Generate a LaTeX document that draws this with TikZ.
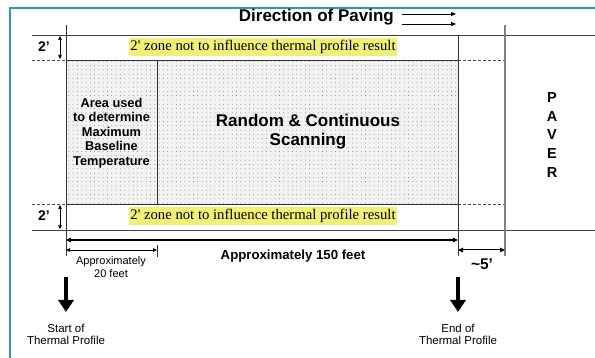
\documentclass[tikz,border=0pt]{standalone}
\usepackage{fontspec}
\setmainfont{Liberation Sans}
\newfontfamily\seriffont{Liberation Serif}
\usetikzlibrary{arrows.meta,patterns}
\definecolor{borderblue}{RGB}{45,150,190}
\definecolor{hilite}{RGB}{240,240,120}
\pgfdeclarepatternformonly{sparsedots}{\pgfqpoint{-1pt}{-1pt}}{\pgfqpoint{1pt}{1pt}}{\pgfqpoint{4.3pt}{4.3pt}}{%
  \pgfpathcircle{\pgfqpoint{0pt}{0pt}}{0.45pt}\pgfusepath{fill}}
\tikzset{
  frameline/.style={draw=borderblue,line width=1.4pt},
  mainline/.style={draw=black!75,line width=0.9pt},
  grayline/.style={draw=black!50,line width=1.6pt},
  thinline/.style={draw=black!80,line width=0.6pt},
  dashline/.style={draw=black!70,line width=0.6pt,dash pattern=on 3pt off 2pt},
  dimline/.style={draw=black,line width=1.2pt,{Triangle[length=5pt,width=4.5pt]}-{Triangle[length=5pt,width=4.5pt]}},
  smalldim/.style={draw=black,line width=0.6pt,{Triangle[length=4pt,width=3.5pt]}-{Triangle[length=4pt,width=3.5pt]}},
  dirarrow/.style={draw=black,line width=0.7pt,-{Triangle[length=5pt,width=4pt]}},
  bigarrow/.style={draw=black,line width=4.5pt,-{Triangle[length=12pt,width=15pt]}},
  lbl/.style={inner sep=0pt,align=center,font=\bfseries\fontsize{#1}{#1}\selectfont},
  lbl/.default=11,
  zone/.style={fill=hilite,inner xsep=1.5pt,inner ysep=2pt,font=\seriffont\fontsize{14.7}{16}\selectfont}
}
\begin{document}
\begin{tikzpicture}[x=1pt,y=-1pt]
\useasboundingbox (0,0) rectangle (595,358);
% frame
\draw[frameline] (10,358) -- (10,8) -- (595,8);
% key coordinates
\coordinate (tl) at (32,35);
\coordinate (tr) at (595,35);
\coordinate (bl) at (32,230);
\coordinate (br) at (595,230);
\coordinate (a1) at (66,60);
\coordinate (a2) at (458,204);
% dotted area
\fill[black!5] (a1) rectangle (a2);
\fill[pattern=sparsedots,pattern color=black!55] (a1) rectangle (a2);
% horizontal lines
\draw[mainline] (tl) -- (tr);
\draw[mainline] (bl) -- (br);
\draw[thinline] (66,60) -- (458,60);
\draw[thinline] (66,204) -- (458,204);
\draw[dashline] (32,60) -- (66,60);
\draw[dashline] (458,60) -- (505,60);
\draw[dashline] (32,204) -- (66,204);
\draw[dashline] (458,204) -- (505,204);
% vertical lines
\coordinate (v1t) at (66,25);  \coordinate (v1b) at (66,256);
\coordinate (v2t) at (458,35); \coordinate (v2b) at (458,256);
\coordinate (v3t) at (505,25); \coordinate (v3b) at (505,256);
\coordinate (dvt) at (157,60); \coordinate (dvb) at (157,204);
\draw[thinline] (v1t) -- (v1b);
\draw[thinline] (v2t) -- (v2b);
\draw[grayline] (v3t) -- (v3b);
\draw[thinline] (dvt) -- (dvb);
% title
\node[lbl=17,anchor=east] (title) at (394,17) {Direction of Paving};
\coordinate (d1s) at (402,14); \coordinate (d1e) at (456,14);
\coordinate (d2s) at (402,24); \coordinate (d2e) at (456,24);
\draw[dirarrow] (d1s) -- (d1e);
\draw[dirarrow] (d2s) -- (d2e);
% 2' zones
\node[zone] (z1) at (263,47) {2' zone not to influence thermal profile result};
\node[zone] (z2) at (263,216) {2' zone not to influence thermal profile result};
\node[lbl=14] (t1) at (44,47) {2’};
\node[lbl=14] (t2) at (44,216) {2’};
\coordinate (h1a) at (60,36); \coordinate (h1b) at (60,59);
\coordinate (h2a) at (60,205); \coordinate (h2b) at (60,229);
\draw[smalldim] (h1a) -- (h1b);
\draw[smalldim] (h2a) -- (h2b);
% inner texts
\node[lbl=13,font=\bfseries\fontsize{12.8}{14.4}\selectfont] (area) at (111.5,133) {Area used\\to determine\\Maximum\\Baseline\\Temperature};
\node[lbl=17,font=\bfseries\fontsize{17}{19}\selectfont] (scan) at (308,132) {Random \& Continuous\\Scanning};
\node[lbl=14,font=\bfseries\fontsize{14.5}{18.6}\selectfont] (paver) at (552,135) {P\\A\\V\\E\\R};
% dimensions
\coordinate (m1) at (66,240); \coordinate (m2) at (458,240);
\draw[dimline] (m1) -- (m2);
\node[lbl=13.2] (d150) at (293,256) {Approximately 150 feet};
\coordinate (s1) at (66,250); \coordinate (s2) at (157,250);
\draw[smalldim,line width=0.8pt] (s1) -- (s2);
\coordinate (k1) at (157,245); \coordinate (k2) at (157,257);
\draw[thinline] (k1) -- (k2);
\node[lbl=11,font=\fontsize{11}{12.5}\selectfont] (d20) at (111,267) {Approximately\\20 feet};
\coordinate (f1) at (458,250); \coordinate (f2) at (505,250);
\draw[dimline,line width=1pt] (f1) -- (f2);
\node[lbl=15.5] (d5) at (482,264) {\textasciitilde 5’};
% big arrows
\coordinate (b1s) at (66,277); \coordinate (b1e) at (66,312);
\coordinate (b2s) at (458,277); \coordinate (b2e) at (458,312);
\draw[bigarrow] (b1s) -- (b1e);
\draw[bigarrow] (b2s) -- (b2e);
\node[lbl=11.5,font=\fontsize{11.5}{12}\selectfont] (start) at (66,334) {Start of\\Thermal Profile};
\node[lbl=11.5,font=\fontsize{11.5}{12}\selectfont] (end) at (458,334) {End of\\Thermal Profile};
\end{tikzpicture}
\end{document}
